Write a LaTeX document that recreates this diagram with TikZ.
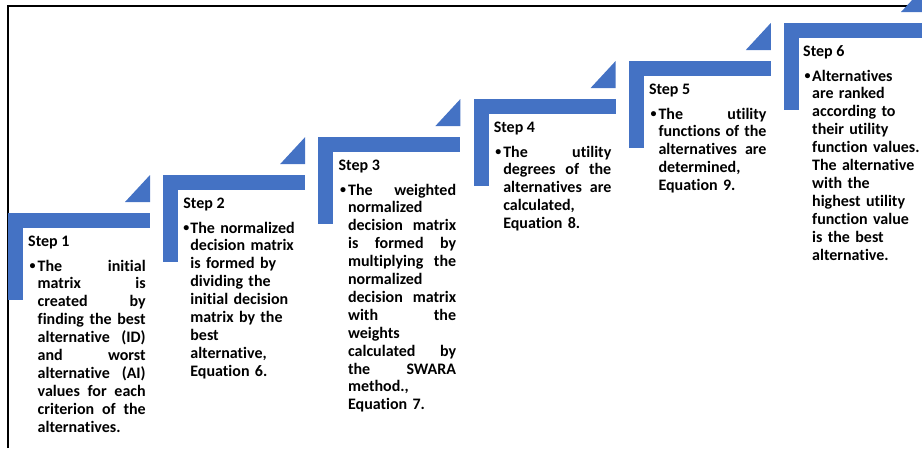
\documentclass[tikz,border=0pt]{standalone}
\usepackage{fontspec}
\setmainfont{Carlito}[Ligatures={NoCommon,NoRare}]
\definecolor{stepblue}{HTML}{4472C4}
\newlength\bw
\setlength\bw{108pt}
\newcommand\jl[1]{\leavevmode\hbox to\bw{#1}\\}
\newcommand\stepdeco[2]{%
  \fill[stepblue] (#1,#2) rectangle ++(142,15);
  \fill[stepblue] (#1,#2) rectangle ++(15,87);
  \fill[stepblue] ($(#1,#2)+(117,-11)$) -- ++(25,0) -- ++(0,-27) -- cycle;
}
\usetikzlibrary{calc}
\begin{document}
\begin{tikzpicture}[x=1pt,y=-1pt,
  txt/.style={anchor=base west,inner sep=0pt,font=\bfseries\fontsize{16}{17.9}\selectfont},
  bul/.style={anchor=base west,inner sep=0pt,font=\bfseries\fontsize{12}{12}\selectfont},
  body/.style={txt,text width=\bw,align=left}]
\useasboundingbox (0,0) rectangle (922,448);
\draw[line width=1.1pt] (8,448) -- (8,6) -- (922,6);
% shapes
\stepdeco{8}{213}
\stepdeco{163.2}{175}
\stepdeco{318.4}{137}
\stepdeco{473.6}{99}
\stepdeco{628.8}{61}
\stepdeco{784}{23}
% Step 1
\node[txt] (t1) at (28,246) {Step 1};
\node[bul] (b1) at (29.5,269.5) {\textbullet};
\node[body] (x1) at (37.5,271) {\jl{The\hfill initial}\jl{matrix\hfill is}\jl{created\hfill by}\jl{finding\hfill the\hfill best}\jl{alternative\hfill (ID)}\jl{and\hfill worst}\jl{alternative\hfill (AI)}\jl{values\hfill for\hfill each}\jl{criterion\hfill of\hfill the}alternatives.};
% Step 2
\node[txt] (t2) at (183.2,208) {Step 2};
\node[bul] (b2) at (183.2,231.5) {\textbullet};
\node[body] (x2) at (190.2,233) {The normalized\\decision matrix\\is formed by\\dividing the\\initial decision\\matrix by the\\best\\alternative,\\Equation 6.};
% Step 3
\node[txt] (t3) at (338.4,170) {Step 3};
\node[bul] (b3) at (339.9,193.5) {\textbullet};
\node[body] (x3) at (347.9,195) {\jl{The\hfill weighted}normalized\\\jl{decision\hfill matrix}\jl{is\hfill formed\hfill by}\jl{multiplying\hfill the}normalized\\\jl{decision\hfill matrix}\jl{with\hfill the}weights\\\jl{calculated\hfill by}\jl{the\hfill SWARA}method.,\\Equation 7.};
% Step 4
\node[txt] (t4) at (493.6,132) {Step 4};
\node[bul] (b4) at (495.1,155.5) {\textbullet};
\node[body] (x4) at (503.1,157) {\jl{The\hfill utility}\jl{degrees\hfill of\hfill the}\jl{alternatives\hfill are}calculated,\\Equation 8.};
% Step 5
\node[txt] (t5) at (648.8,94) {Step 5};
\node[bul] (b5) at (650.3,117.5) {\textbullet};
\node[body] (x5) at (658.3,119) {\jl{The\hfill utility}\jl{functions\hfill of\hfill the}\jl{alternatives\hfill are}determined,\\Equation 9.};
% Step 6
\node[txt] (t6) at (803,56) {Step 6};
\node[bul] (b6) at (804.5,79.5) {\textbullet};
\node[body] (x6) at (812,81) {Alternatives\\are ranked\\according to\\their utility\\function values.\\The alternative\\with the\\highest utility\\function value\\is the best\\alternative.};
\end{tikzpicture}
\end{document}
